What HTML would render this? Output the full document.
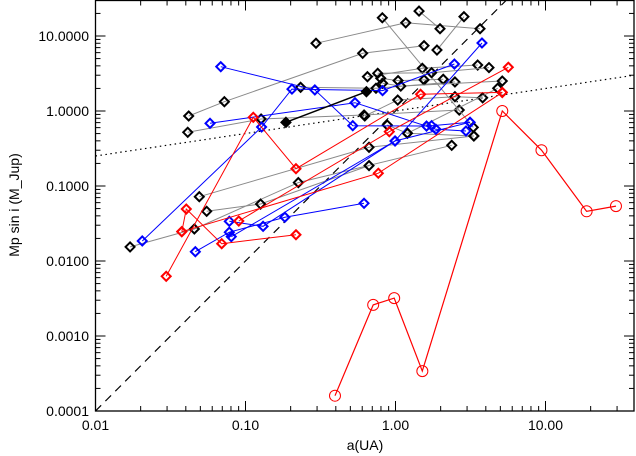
<!DOCTYPE html>
<html><head><meta charset="utf-8"><style>
html,body{margin:0;padding:0;background:#fff;}
svg{display:block;font-family:"Liberation Sans","DejaVu Sans",sans-serif;}
</style></head><body>
<svg id="chart" width="636" height="456" viewBox="0 0 636 456" xmlns="http://www.w3.org/2000/svg"></svg>
<script>
// ---- data ----
const xTickValues = [0.01, 0.1, 1, 10];
const xTickLabels = ["0.01", "0.10", "1.00", "10.00"];
const yTickValues = [0.0001, 0.001, 0.01, 0.1, 1, 10];
const yTickLabels = ["0.0001", "0.0010", "0.0100", "0.1000", "1.0000", "10.0000"];
// black-marker systems (gray connecting lines)
const blackSystems = [
  [[0.017,0.0154],[0.0456,0.0267],[0.225,0.111],[2.37,0.349]],
  [[0.0492,0.072],[0.666,0.328],[3.33,0.464]],
  [[0.0551,0.046],[0.126,0.0575],[0.666,0.187]],
  [[0.0412,0.52],[0.127,0.782],[0.617,0.885],[2.66,1.03]],
  [[0.0418,0.858],[0.0723,1.33],[0.604,5.88],[1.55,7.43]],
  [[0.295,8.0],[1.17,15],[3.66,12.5]],
  [[0.233,2.07],[0.741,2.01],[2.49,2.44]],
  [[0.817,17.5],[3.3,0.606]],
  [[1.435,21.5],[1.98,12.5]],
  [[1.89,6.5],[2.86,18.1]],
  [[0.65,2.87],[1.51,3.71],[3.53,4.1]],
  [[0.761,3.18],[1.74,3.24],[4.2,3.79]],
  [[0.797,2.73],[1.04,2.54],[1.55,2.6],[2.08,2.65]],
  [[0.82,2.34],[1.084,2.15],[5.15,2.51]],
  [[0.624,0.858],[1.035,1.4],[2.49,1.55],[3.81,1.5]],
  [[0.881,0.65],[1.2,0.505],[3.33,0.464]],
  [[1.2,0.505],[4.8,2.01]]
];
const filledSystem = [[0.186,0.706],[0.64,1.81]];
const blueSystems = [
  [[0.0684,3.9],[0.29,1.91],[0.519,0.637],[1.61,0.63],[1.74,0.637],[3.14,0.706]],
  [[0.0205,0.0185],[0.128,0.612],[0.204,1.96],[0.82,1.87],[2.47,4.23]],
  [[0.058,0.685],[0.537,1.29],[1.86,0.57],[2.95,0.541]],
  [[0.0463,0.0133],[0.078,0.0242],[0.183,0.0383],[0.617,0.0588]],
  [[0.078,0.0338],[0.131,0.029],[0.993,0.398],[3.77,8.07]],
  [[0.0804,0.0211],[0.993,0.398],[3.14,0.706]]
];
const redSystems = [
  [[0.0296,0.00625],[0.1127,0.824],[0.217,0.17],[1.47,1.67],[5.15,1.77]],
  [[0.0376,0.0246],[0.0403,0.0493],[0.0694,0.017],[0.217,0.0224]],
  [[0.0902,0.0341],[0.909,0.53],[5.65,3.83]],
  [[0.0376,0.0246],[0.768,0.148],[5.15,1.77]]
];
const circleA = [0.395, 0.71, 0.98, 1.51, 5.15, 9.4, 18.8, 29.5];
const circleM = [0.00016, 0.0026, 0.0032, 0.00034, 1.0, 0.30, 0.046, 0.054];
const dashedCoef = 1.0, dashedExp = 2.0;
const dottedCoef = 1.0, dottedExp = 0.3;

// ---- axes ----
const L = 95.5, R = 634, T = 0.5, B = 411;
const xPerDec = 150, yPerDec = 75;
function X(a){ return L + (Math.log10(a) + 2) * xPerDec; }
function Y(m){ return 36 + (1 - Math.log10(m)) * yPerDec; }
const xMin = Math.pow(10, (L - L)/xPerDec - 2), xMax = Math.pow(10, (R - L)/xPerDec - 2);
const yMin = Math.pow(10, 1 - (B - 36)/yPerDec), yMax = Math.pow(10, 1 - (T - 36)/yPerDec);

const NS = "http://www.w3.org/2000/svg";
const svg = document.getElementById("chart");
function mk(tag, attrs, parent){ const e = document.createElementNS(NS, tag); for (const k in attrs) e.setAttribute(k, attrs[k]); (parent||svg).appendChild(e); return e; }

const clip = mk("clipPath", {id:"pc"}); mk("rect", {x:L, y:T, width:R-L, height:B-T}, clip);
const plot = mk("g", {"clip-path":"url(#pc)"});



// reference lines
function powerLine(c, e, dash, name){
  const pts = [];
  for (let i = 0; i <= 60; i++){ const la = -2 + i*4.6/60; const a = Math.pow(10, la); pts.push(X(a).toFixed(1)+","+Y(c*Math.pow(a,e)).toFixed(1)); }
  const p = mk("polyline", {points: pts.join(" "), fill:"none", stroke:"#000", "stroke-width":1.2, "stroke-dasharray":dash}, plot);
  
  
}
powerLine(dashedCoef, dashedExp, "8,6", "dashed-reference-line");
powerLine(dottedCoef, dottedExp, "1.5,3.5", "dotted-reference-line");

function drawSystem(pts, lineColor, markColor, name, filled, lw){
  const line = mk("polyline", {points: pts.map(p => X(p[0]).toFixed(1)+","+Y(p[1]).toFixed(1)).join(" "), fill:"none", stroke:lineColor, "stroke-width":lw||1}, plot);
  
  
  pts.forEach(p => {
    const cx = X(p[0]), cy = Y(p[1]), s = 4.5;
    const d = mk("polygon", {points: `${cx},${cy-s} ${cx+s},${cy} ${cx},${cy+s} ${cx-s},${cy}`, fill: filled ? markColor : "#fff", "fill-opacity": filled ? 1 : 0, stroke: markColor, "stroke-width":2}, plot);
    
    
  });
}
blackSystems.forEach(s => drawSystem(s, "#8a8a8a", "#000", "black-system", false));
blueSystems.forEach(s => drawSystem(s, "#0000ff", "#0000ff", "blue-system", false));
redSystems.forEach(s => drawSystem(s, "#ff0000", "#ff0000", "red-system", false));
drawSystem(filledSystem, "#000", "#000", "filled-system", true, 1.5);

// circle series
const cl = mk("polyline", {points: circleA.map((a,i) => X(a).toFixed(1)+","+Y(circleM[i]).toFixed(1)).join(" "), fill:"none", stroke:"#ff0000", "stroke-width":1.2}, plot);


circleA.forEach((a,i) => {
  const c = mk("circle", {cx:X(a), cy:Y(circleM[i]), r:5.5, fill:"none", stroke:"#ff0000", "stroke-width":1}, plot);
  
  
});

// frame
const frame = mk("rect", {x:L, y:T, width:R-L, height:B-T, fill:"none", stroke:"#000", "stroke-width":1.3});



// ticks
const tickG = mk("g", {stroke:"#000", "stroke-width":1});


for (let d = -2; d <= 1; d++){
  for (let k = 1; k <= 9; k++){
    const a = k*Math.pow(10,d); if (a > xMax) continue;
    const x = X(a), len = k===1 ? 10 : 5;
    mk("line", {x1:x, y1:B, x2:x, y2:B-len}, tickG);
    mk("line", {x1:x, y1:T, x2:x, y2:T+len}, tickG);
  }
}
for (let d = -4; d <= 1; d++){
  for (let k = 1; k <= 9; k++){
    const m = k*Math.pow(10,d); if (m > yMax) continue;
    const y = Y(m), len = k===1 ? 10 : 5;
    mk("line", {x1:L, y1:y, x2:L+len, y2:y}, tickG);
    mk("line", {x1:R, y1:y, x2:R-len, y2:y}, tickG);
  }
}
xTickValues.forEach((v,i) => {
  const t = mk("text", {x:X(v), y:430, "text-anchor":"middle", "font-size":14, fill:"#000"});
  t.textContent = xTickLabels[i];
  
  
});
yTickValues.forEach((v,i) => {
  const t = mk("text", {x:89, y:Y(v)+5, "text-anchor":"end", "font-size":14, fill:"#000"});
  t.textContent = yTickLabels[i];
  
  
});
const xt = mk("text", {x:365, y:450, "text-anchor":"middle", "font-size":14, fill:"#000"});
xt.textContent = "a(UA)";


const yt = mk("text", {x:0, y:0, "text-anchor":"middle", "font-size":14, fill:"#000", transform:"translate(19,205) rotate(-90)"});
yt.textContent = "Mp sin i (M_Jup)";


</script>
</body></html>
